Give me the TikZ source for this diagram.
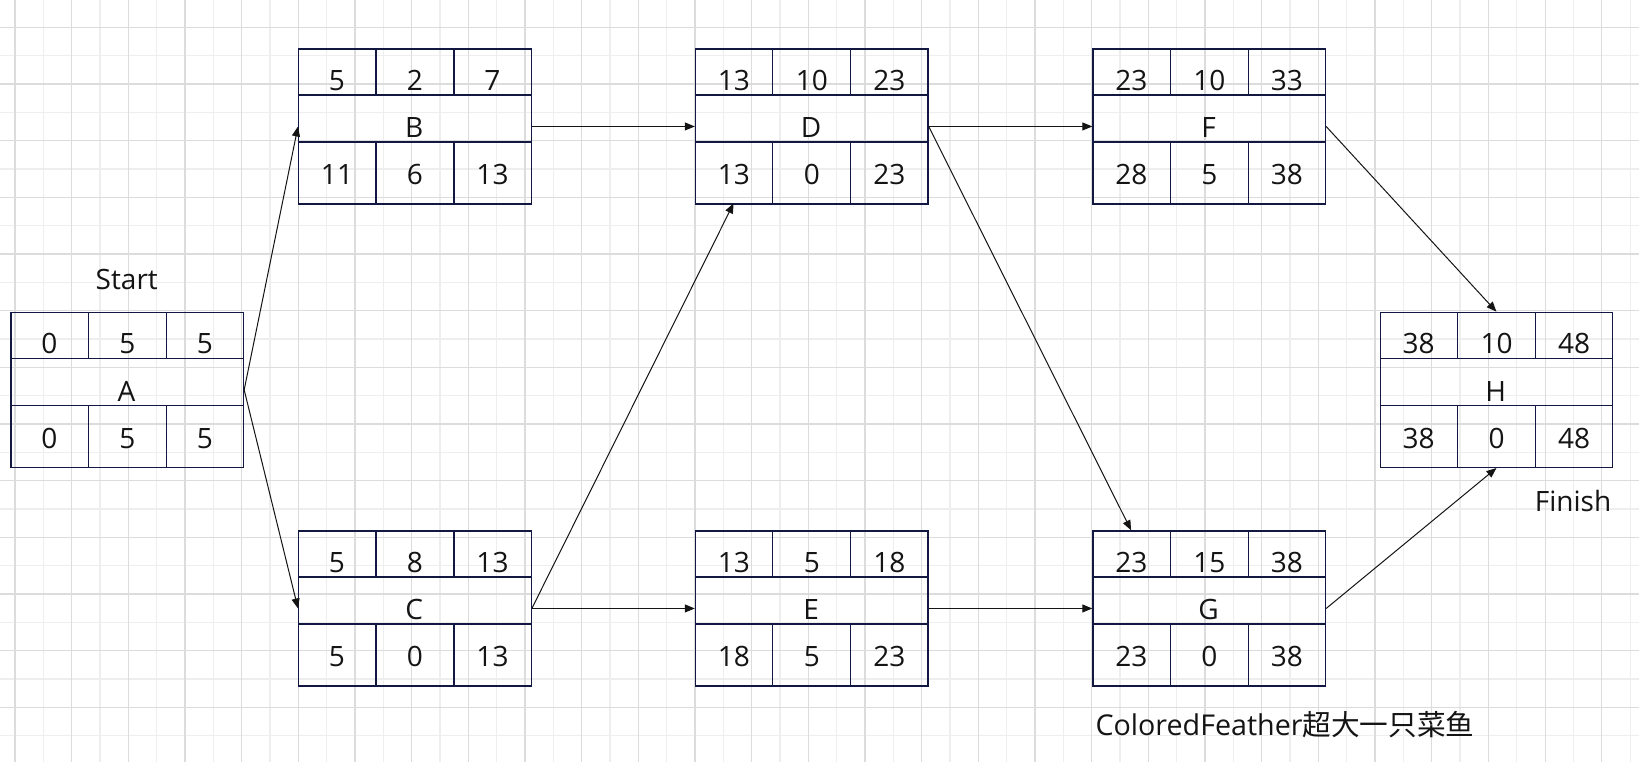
\documentclass[tikz,border=0pt]{standalone}
\usepackage{fontspec}
\setmainfont{Open Sans}
\newfontfamily\cjk{Noto Sans CJK SC}
\usetikzlibrary{arrows.meta}

\definecolor{boxline}{RGB}{18,24,66}
\definecolor{majorgrid}{RGB}{220,220,220}
\definecolor{minorgrid}{RGB}{238,238,238}
\definecolor{inkgray}{RGB}{20,20,20}

\tikzset{
  every picture/.style={line width=0.75pt},
  taskbox/.style={draw=boxline, line width=1pt, minimum width=174.4pt, minimum height=116.25pt, inner sep=0pt},
  divline/.style={draw=boxline, line width=1pt},
  cell/.style={anchor=base, inner sep=0pt, text=inkgray, font=\fontsize{21}{25}\selectfont},
  depline/.style={draw=inkgray, line width=0.75pt, -{Triangle[length=7.5pt,width=6pt]}},
}

% #1 name and label, #2 #3 top left corner, #4-#6 top row, #7-#9 bottom row
\newcommand{\taskcard}[9]{%
  \node[taskbox, anchor=north west] (#1) at (#2,#3) {};
  \draw[divline] (#2,#3+46.7) -- (#2+232.5,#3+46.7);
  \draw[divline] (#2,#3+93.7) -- (#2+232.5,#3+93.7);
  \draw[divline] (#2+78,#3) -- (#2+78,#3+46.7);
  \draw[divline] (#2+156,#3) -- (#2+156,#3+46.7);
  \draw[divline] (#2+78,#3+93.7) -- (#2+78,#3+155);
  \draw[divline] (#2+156,#3+93.7) -- (#2+156,#3+155);
  \node[cell] (#1-es) at (#2+39,#3+41.8) {#4};
  \node[cell] (#1-d) at (#2+117,#3+41.8) {#5};
  \node[cell] (#1-ef) at (#2+194.5,#3+41.8) {#6};
  \node[cell] (#1-n) at (#2+116.25,#3+89.6) {#1};
  \node[cell] (#1-ls) at (#2+39,#3+136.6) {#7};
  \node[cell] (#1-tf) at (#2+117,#3+136.6) {#8};
  \node[cell] (#1-lf) at (#2+194.5,#3+136.6) {#9};
  \coordinate (#1-tl) at (#2+38.8,#3);
  \coordinate (#1-bl) at (#2+38.8,#3+155);
}

\begin{document}
\begin{tikzpicture}[x=0.75pt,y=-0.75pt]
  \useasboundingbox (0,0) rectangle (1639,762);
  \fill[white] (0,0) rectangle (1639,762);

  % background grid
  \foreach \gx in {43.33,100,...,1639} \draw[minorgrid, line width=0.9pt] (\gx,0) -- (\gx,762);
  \foreach \gy in {55.67,112.33,...,762} \draw[minorgrid, line width=0.9pt] (0,\gy) -- (1639,\gy);
  \foreach \gx in {15,71.67,...,1639} \draw[majorgrid, line width=0.9pt] (\gx,0) -- (\gx,762);
  \foreach \gy in {27.33,84,...,762} \draw[majorgrid, line width=0.9pt] (0,\gy) -- (1639,\gy);

  % activity cards
  \taskcard{A}{10.3}{311.7}{0}{5}{5}{0}{5}{5}
  \taskcard{B}{298}{48.3}{5}{2}{7}{11}{6}{13}
  \taskcard{C}{298}{530.3}{5}{8}{13}{5}{0}{13}
  \taskcard{D}{694.8}{48.3}{13}{10}{23}{13}{0}{23}
  \taskcard{E}{694.8}{530.3}{13}{5}{18}{18}{5}{23}
  \taskcard{F}{1092.3}{48.3}{23}{10}{33}{28}{5}{38}
  \taskcard{G}{1092.3}{530.3}{23}{15}{38}{23}{0}{38}
  \taskcard{H}{1379.5}{311.7}{38}{10}{48}{38}{0}{48}

  % labels
  \node[cell] (start) at (126.8,290) {Start};
  \node[cell] (finish) at (1573,511.5) {Finish};
  \node[cell, anchor=base west, font=\fontsize{21.5}{25}\selectfont] (sign) at (1095,735) {ColoredFeather{\cjk 超大一只菜鱼}};

  % dependencies
  \draw[depline] (A.east) -- (B.west);
  \draw[depline] (A.east) -- (C.west);
  \draw[depline] (B.east) -- (D.west);
  \draw[depline] (C.east) -- (D-bl);
  \draw[depline] (C.east) -- (E.west);
  \draw[depline] (D.east) -- (F.west);
  \draw[depline] (D.east) -- (G-tl);
  \draw[depline] (E.east) -- (G.west);
  \draw[depline] (F.east) -- (H.north);
  \draw[depline] (G.east) -- (H.south);
\end{tikzpicture}
\end{document}
